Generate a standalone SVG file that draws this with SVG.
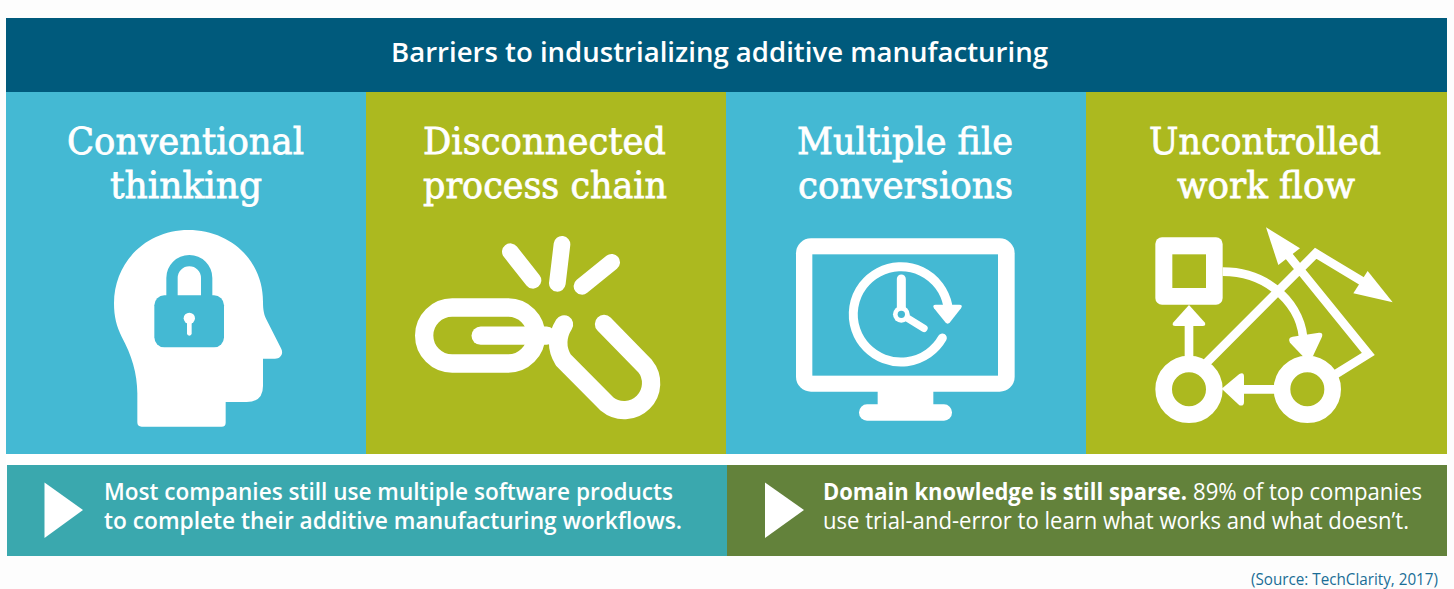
<svg xmlns="http://www.w3.org/2000/svg" width="1454" height="589" viewBox="0 0 1454 589">
<style>
.bluebg{fill:#44b9d3}.olivebg{fill:#acb91f}
.t{font-family:"DejaVu Serif","Liberation Serif",serif;font-size:38px;fill:#fff;stroke:#fff;stroke-width:.8px}
.b{font-family:"Open Sans","Noto Sans",sans-serif;font-size:23.500px;fill:#fff}
.sb{font-weight:600}
.w{fill:#fff}
.ws{fill:none;stroke:#fff;stroke-linecap:round;stroke-linejoin:round}
.cs{fill:none;stroke:#44b9d3}
</style>
<rect width="1454" height="589" fill="#fdfdfd"/>
<rect x="6" y="454" width="1441" height="11" fill="#fff"/>
<g id="header">
<rect x="6" y="18" width="1441" height="74" fill="#005a7c"/>
<text x="391" y="62" class="b sb" style="font-size:27.500px" textLength="657" lengthAdjust="spacingAndGlyphs">Barriers to industrializing additive manufacturing</text>
</g>
<g id="col-conventional-thinking">
<rect class="bluebg" x="6" y="92" width="360" height="362"/>
<text class="t" x="67" y="154" textLength="237" lengthAdjust="spacingAndGlyphs">Conventional</text>
<text class="t" x="110" y="198" textLength="152" lengthAdjust="spacingAndGlyphs">thinking</text>
<g transform="translate(90 230) scale(.33333)">
<path class="w" d="M142 577Q142 590 155 590H395Q407 590 407 578V516H470Q519 516 519 468V386H555C572 386 582 370 573 355L530 270C522 254 519 240 519 215C519 90 420 0 295 0C170 0 72 95 72 220C72 260 80 290 95 320C125 375 142 430 142 490Z"/>
<rect class="bluebg" x="193" y="196" width="209" height="156" rx="30"/>
<path class="cs" stroke-width="34" d="M246 200V144C246 115 269 92 298 92C327 92 350 115 350 144V200"/>
<circle class="w" cx="298" cy="265" r="17"/>
<path class="ws" stroke-width="14" d="M298 270V310"/>
</g>
</g>
<g id="col-disconnected-process-chain">
<rect class="olivebg" x="366" y="92" width="360" height="362"/>
<text class="t" x="423" y="154" textLength="243" lengthAdjust="spacingAndGlyphs">Disconnected</text>
<text class="t" x="423" y="198" textLength="244" lengthAdjust="spacingAndGlyphs">process chain</text>
<g transform="translate(400 225) scale(.33333)">
<rect class="ws" stroke-width="55" x="72.500" y="247.500" width="336" height="168" rx="84"/>
<path class="ws" stroke-width="55" d="M242 332H440"/>
<path class="ws" stroke-width="55" d="M492 298Q458 352 490 405L621 537A81 81 0 0 0 735 423L612 297"/>
<path class="ws" stroke-width="50" d="M331 80L399 166M486 58L472 175M635 112L546 184"/>
</g>
</g>
<g id="col-multiple-file-conversions">
<rect class="bluebg" x="726" y="92" width="360" height="362"/>
<text class="t" x="797" y="154" textLength="216" lengthAdjust="spacingAndGlyphs">Multiple file</text>
<text class="t" x="798" y="198" textLength="215" lengthAdjust="spacingAndGlyphs">conversions</text>
<g transform="translate(780 225) scale(.33333)">
<rect class="w" x="48" y="40" width="656" height="460" rx="45"/>
<rect class="bluebg" x="97" y="88" width="557" height="364"/>
<rect class="w" x="293" y="495" width="167" height="50"/>
<rect class="w" x="237" y="538" width="279" height="49" rx="24"/>
<path class="ws" stroke-width="27" d="M487 339A143 143 0 1 1 503 240"/>
<path class="w" d="M467 239H538Q550 239 543 250L510 292Q503 300 496 292L462 250Q456 239 467 239Z"/>
<path class="ws" stroke-width="27" d="M364 162V268"/>
<path class="ws" stroke-width="22" d="M364 268L432 310"/>
<circle class="w" cx="364" cy="268" r="25"/>
<circle class="bluebg" cx="364" cy="268" r="11"/>
</g>
</g>
<g id="col-uncontrolled-work-flow">
<rect class="olivebg" x="1086" y="92" width="361" height="362"/>
<text class="t" x="1149" y="154" textLength="232" lengthAdjust="spacingAndGlyphs">Uncontrolled</text>
<text class="t" x="1177" y="198" textLength="178" lengthAdjust="spacingAndGlyphs">work flow</text>
<g transform="translate(1140 220) scale(.33333)">
<path class="ws" stroke-width="26" style="stroke-linecap:butt;stroke-linejoin:miter" d="M248 155C390 155 490 260 490 370M147 415V310M405 508H300M200 428L527 100L680 192M588 462L685 402L440 100"/>
<path class="w" d="M378 22L480 85L415 135Z"/>
<path class="w" d="M758 247L683 153L640 220Z"/>
<path class="w" d="M458 350L537 338Q550 337 546 350L518 410H490L450 368Q442 353 458 350Z"/>
<path class="w" d="M147 255L195 308Q198 318 188 318H106Q95 318 99 308Z"/>
<path class="w" d="M245 506L298 462Q312 455 312 470V545Q312 560 298 556Z"/>
<rect class="w" x="46" y="52" width="202" height="202" rx="20"/>
<rect class="olivebg" x="97" y="103" width="101" height="101"/>
<circle cx="147" cy="508" r="76" fill="none" stroke="#fff" stroke-width="50"/>
<circle cx="502" cy="508" r="76" fill="none" stroke="#fff" stroke-width="50"/>
</g>
</g>
<g id="note-left">
<rect x="7" y="465" width="720" height="91" fill="#3aa8ae"/>
<path class="w" d="M44.500 482.500L83 510L44.500 538Z"/>
<text class="b sb" x="104" y="500" textLength="569" lengthAdjust="spacingAndGlyphs">Most companies still use multiple software products</text>
<text class="b sb" x="104" y="529" textLength="578" lengthAdjust="spacingAndGlyphs">to complete their additive manufacturing workflows.</text>
</g>
<g id="note-right">
<rect x="727" y="465" width="720" height="91" fill="#63823b"/>
<path class="w" d="M765 482.500L804 510L765 538Z"/>
<text class="b" style="font-weight:700" x="823" y="500" textLength="364" lengthAdjust="spacingAndGlyphs">Domain knowledge is still sparse.</text>
<text class="b" x="1193" y="500" textLength="229" lengthAdjust="spacingAndGlyphs">89% of top companies</text>
<text class="b" x="823" y="529" textLength="586" lengthAdjust="spacingAndGlyphs">use trial-and-error to learn what works and what doesn’t.</text>
</g>
<text id="source" x="1251" y="585" textLength="187" lengthAdjust="spacingAndGlyphs" style="font-family:'Open Sans','Noto Sans',sans-serif;font-size:16px;fill:#1a6d96">(Source: TechClarity, 2017)</text>
</svg>
